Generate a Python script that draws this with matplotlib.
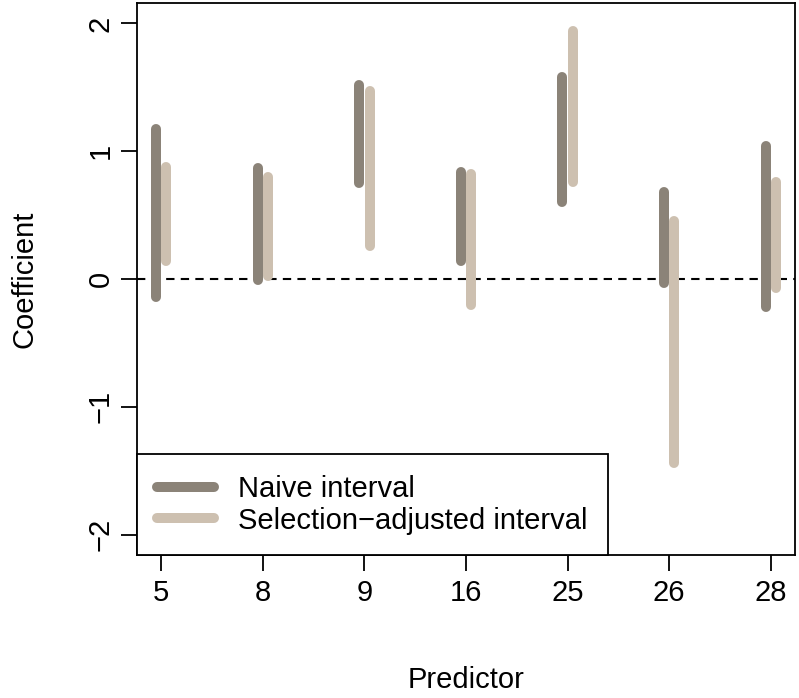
# naive vs selection-adjusted confidence intervals per predictor

import numpy as np
import matplotlib.pyplot as plt

plt.rcParams['font.family'] = ['Liberation Sans', 'DejaVu Sans']

predictors = ['5', '8', '9', '16', '25', '26', '28']

# interval ends
naiveLow = [-0.14, -0.01, 0.75, 0.14, 0.60, -0.03, -0.22]
naiveHigh = [1.17, 0.87, 1.52, 0.84, 1.58, 0.68, 1.04]
adjLow = [0.14, 0.02, 0.26, -0.20, 0.76, -1.44, -0.07]
adjHigh = [0.88, 0.80, 1.47, 0.82, 1.94, 0.45, 0.76]

naiveCol = '#8B8378'  # antiquewhite4
adjCol = '#CDC0B0'    # antiquewhite3

fig = plt.figure(figsize=(7.99, 6.98), dpi=100)
ax = fig.add_axes([0.1715, 0.2049, 0.8235, 0.7908])

x = np.arange(1, len(predictors)+1)
off = 0.05
for i in range(len(x)):
    ax.plot([x[i]-off, x[i]-off], [naiveLow[i], naiveHigh[i]], color=naiveCol, linewidth=7.2,
            solid_capstyle='round', label='Naive interval' if i == 0 else None)
for i in range(len(x)):
    ax.plot([x[i]+off, x[i]+off], [adjLow[i], adjHigh[i]], color=adjCol, linewidth=7.2,
            solid_capstyle='round', label='Selection\u2212adjusted interval' if i == 0 else None)

ax.axhline(0, color='k', linestyle=(0, (4, 3)), linewidth=1.5, zorder=0)

ax.set_xlim(0.76, 7.24)
ax.set_ylim(-2.16, 2.16)
ax.set_xticks(x)
ax.set_xticklabels(predictors)
ax.set_yticks([-2, -1, 0, 1, 2])
ax.set_yticklabels(['\u22122', '\u22121', '0', '1', '2'], rotation=90, va='center')
ax.tick_params(axis='both', direction='out', length=11.5, width=1.3, labelsize=21)
ax.tick_params(axis='x', pad=6)
ax.tick_params(axis='y', pad=4.5)
for s in ax.spines.values():
    s.set_linewidth(1.3)

ax.set_xlabel('Predictor', fontsize=21, labelpad=42)
ax.set_ylabel('Coefficient', fontsize=21, labelpad=35)

leg = ax.legend(loc='lower left', fontsize=21, frameon=True, fancybox=False, framealpha=1,
                edgecolor='k', borderaxespad=0, handlelength=1.93, handletextpad=0.82,
                labelspacing=0.13, borderpad=0.7)
leg.get_frame().set_linewidth(1.3)

plt.savefig('out.png', dpi=100)
